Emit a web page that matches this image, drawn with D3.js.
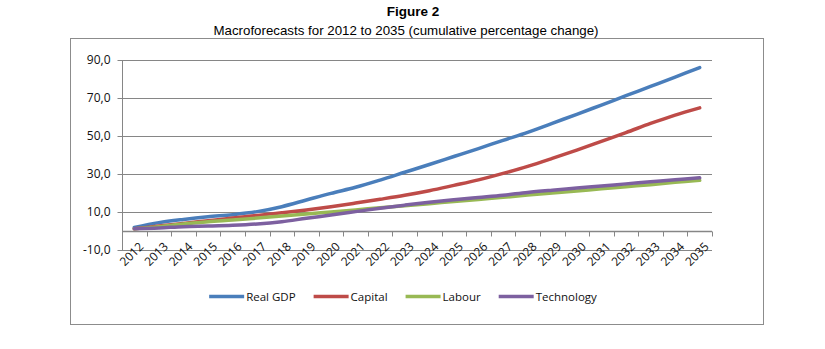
<!DOCTYPE html>
<html>
<head>
<meta charset="utf-8">
<script src="https://cdn.jsdelivr.net/npm/d3@7"></script>
<style>
  body { margin: 0; background: #fff; }
  text { font-family: "Liberation Sans", Arial, sans-serif; }
</style>
</head>
<body>
<div id="chart"></div>
<script>
// values (cumulative % change)
const years = d3.range(2012, 2036).map(String);
const realGDP = [1.9, 4.4, 6.1, 7.5, 8.6, 10.2, 12.8, 16.3, 19.8, 23.0, 26.8, 30.9,
                 35.0, 39.2, 43.4, 47.7, 51.9, 56.7, 61.4, 66.3, 71.2, 76.1, 81.0, 86.0];
const capital = [1.2, 2.6, 4.0, 5.4, 6.8, 8.2, 9.6, 11.1, 12.8, 14.7, 16.7, 18.8,
                 21.2, 24.0, 26.9, 30.3, 34.0, 38.2, 42.6, 47.2, 51.8, 56.6, 61.0, 64.8];
const labour = [1.2, 2.3, 3.7, 4.9, 5.8, 6.8, 7.9, 8.9, 10.0, 11.1, 12.2, 13.3,
                14.4, 15.5, 16.6, 17.7, 18.9, 20.0, 21.1, 22.2, 23.3, 24.4, 25.6, 26.7];
const technology = [1.2, 1.6, 2.3, 2.6, 3.0, 3.7, 4.9, 6.7, 8.4, 10.2, 12.0, 13.6,
                    15.1, 16.4, 17.6, 18.8, 20.3, 21.5, 22.6, 23.7, 24.8, 25.9, 27.0, 28.0];
const yTicks = [-10, 10, 30, 50, 70, 90];
const seriesNames = ["Real GDP", "Capital", "Labour", "Technology"];
const seriesColors = ["#4A7EBB", "#BE4B48", "#98B954", "#7D60A0"];

const series = [realGDP, capital, labour, technology].map((vals, i) => ({
    name: seriesNames[i],
    color: seriesColors[i],
    values: vals.map((v, j) => ({ year: years[j], v: v }))
}));

const W = 825, H = 349;
const svg = d3.select("#chart").append("svg")
    .attr("width", W).attr("height", H);

// titles
svg.append("text")
    .attr("x", 413).attr("y", 16)
    .attr("text-anchor", "middle")
    .style("font-size", "13.5px").style("font-weight", "bold")
    .text("Figure 2");
svg.append("text")
    .attr("x", 406).attr("y", 34.5)
    .attr("text-anchor", "middle")
    .style("font-size", "13.3px")
    .text("Macroforecasts for 2012 to 2035 (cumulative percentage change)");

// chart border
svg.append("rect")
    .attr("x", 70.5).attr("y", 38.5)
    .attr("width", 693).attr("height", 286)
    .attr("fill", "none").attr("stroke", "#8c8c8c");

const x = d3.scaleBand().domain(years).range([122, 712]);
const y = d3.scaleLinear().domain([-10, 90]).range([250, 60]);
const fmt = d3.formatLocale({decimal: ",", thousands: ".", grouping: [3], currency: ["", ""], minus: "-"}).format(".1f");

// gridlines
svg.append("g").selectAll("line")
    .data(yTicks).enter().append("line")
    .attr("x1", x.range()[0]).attr("x2", x.range()[1])
    .attr("y1", d => Math.round(y(d)) + 0.5).attr("y2", d => Math.round(y(d)) + 0.5)
    .attr("stroke", "#868686").attr("stroke-width", 1);

// y axis
const yAxis = svg.append("g")
    .attr("transform", "translate(" + (x.range()[0] + 0.5) + ",0)")
    .call(d3.axisLeft(y).tickValues(yTicks).tickSize(5).tickPadding(7).tickFormat(fmt));
yAxis.select(".domain").attr("stroke", "#868686").attr("d", "M0," + y(-10) + "V" + y(90));
yAxis.selectAll(".tick line").attr("stroke", "#868686");
yAxis.selectAll("text").style("font-size", "12px").attr("fill", "#111")
    .style("font-family", "'Open Sans', sans-serif");

// x axis at zero, ticks between categories
const x0 = Math.round(y(0)) + 0.5;
const xg = svg.append("g");
xg.append("line")
    .attr("x1", x.range()[0]).attr("x2", x.range()[1])
    .attr("y1", x0).attr("y2", x0)
    .attr("stroke", "#868686").attr("stroke-width", 1.5);
xg.selectAll("line.tk")
    .data(years.map(d => x(d)).concat([x.range()[1]]))
    .enter().append("line").attr("class", "tk")
    .attr("x1", d => Math.round(d) + 0.5).attr("x2", d => Math.round(d) + 0.5)
    .attr("y1", x0).attr("y2", x0 + 5)
    .attr("stroke", "#868686");
xg.selectAll("text")
    .data(years).enter().append("text")
    .attr("transform", d => "translate(" + (x(d) + x.bandwidth() / 2 + 4) + "," + (x0 + 10) + ")rotate(-45)")
    .attr("text-anchor", "end")
    .attr("dy", "0.7em")
    .style("font-size", "12px")
    .style("font-family", "'Open Sans', sans-serif")
    .attr("fill", "#111")
    .text(d => d);

// lines
const line = d3.line()
    .x(d => x(d.year) + x.bandwidth() / 2)
    .y(d => y(d.v))
    .curve(d3.curveCatmullRom.alpha(0.5));
svg.append("g").selectAll("path")
    .data(series).enter().append("path")
    .attr("d", d => line(d.values))
    .attr("fill", "none")
    .attr("stroke", d => d.color)
    .attr("stroke-width", 3.5)
    .attr("stroke-linecap", "round");

// legend
const legend = svg.append("g");
let lx = 0;
series.forEach(s => {
    const g = legend.append("g").attr("transform", "translate(" + lx + ",0)");
    g.append("line").attr("x1", 0).attr("x2", 35).attr("y1", 0).attr("y2", 0)
        .attr("stroke", s.color).attr("stroke-width", 3.5);
    const t = g.append("text").attr("x", 37).attr("dy", "0.35em")
        .style("font-size", "11.5px").attr("fill", "#111")
        .style("font-family", "'Open Sans', sans-serif")
        .text(s.name);
    lx += 37 + t.node().getComputedTextLength() + 18;
});
const legW = lx - 18;
legend.attr("transform", "translate(" + (403 - legW / 2) + ",296.5)");
</script>
</body>
</html>
